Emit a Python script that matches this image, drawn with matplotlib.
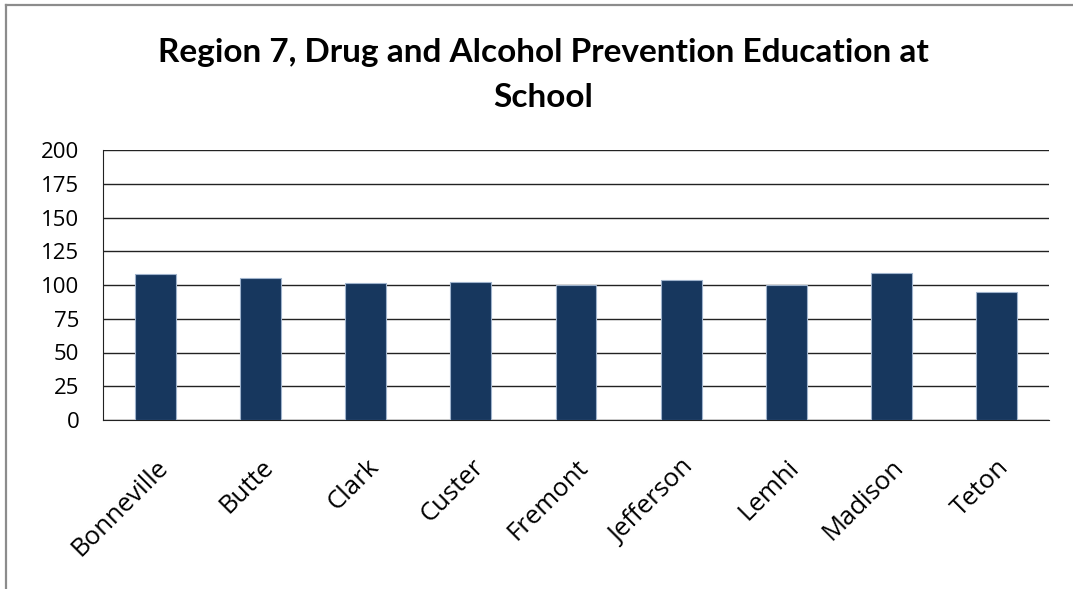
import matplotlib
matplotlib.use("Agg")
import matplotlib.pyplot as plt
from matplotlib.lines import Line2D

counties = ["Bonneville", "Butte", "Clark", "Custer", "Fremont",
            "Jefferson", "Lemhi", "Madison", "Teton"]
values = [108, 105, 101.5, 102, 99.7, 104, 99.8, 108.6, 94.8]
y_ticks = [0, 25, 50, 75, 100, 125, 150, 175, 200]
title = "Region 7, Drug and Alcohol Prevention Education at\nSchool"

W, H = 1073, 589
fig = plt.figure(figsize=(W / 100, H / 100), dpi=100)
ax = fig.add_axes([103 / W, 1 - 420 / H, (1049 - 103) / W, (420 - 150) / H])

x = list(range(len(counties)))
ax.bar(x, values, width=0.39, color="#17375E", edgecolor="#9FB3CC",
       linewidth=0.8, zorder=3)

ax.set_xlim(-0.5, len(counties) - 0.5)
ax.set_ylim(0, 200)
ax.set_yticks(y_ticks)
ax.set_yticklabels([str(v) for v in y_ticks], family="Open Sans", fontsize=16)
ax.yaxis.grid(True, color="#222222", linewidth=1.0, zorder=0)
ax.set_xticks(x)
ax.set_xticklabels(counties, family="Open Sans", fontsize=18.5,
                   rotation=45, ha="right", rotation_mode="anchor")
ax.tick_params(axis="both", length=0)
ax.tick_params(axis="y", pad=17)
ax.tick_params(axis="x", pad=25)
for side in ["top", "right"]:
    ax.spines[side].set_visible(False)
ax.spines["left"].set_color("#222222")
ax.spines["bottom"].set_color("#222222")

fig.text(543 / W, 1 - 75 / H, title, ha="center", va="center",
         family="Lato", fontweight="bold", fontsize=24, linespacing=1.68)

# outer chart frame
fig.add_artist(Line2D([6 / W, 6 / W], [0, 1 - 5 / H], transform=fig.transFigure,
                      color="#8C8C8C", linewidth=1.6))
fig.add_artist(Line2D([6 / W, 1], [1 - 5 / H, 1 - 5 / H], transform=fig.transFigure,
                      color="#8C8C8C", linewidth=1.6))

fig.savefig("out.png", dpi=100, facecolor="white")
